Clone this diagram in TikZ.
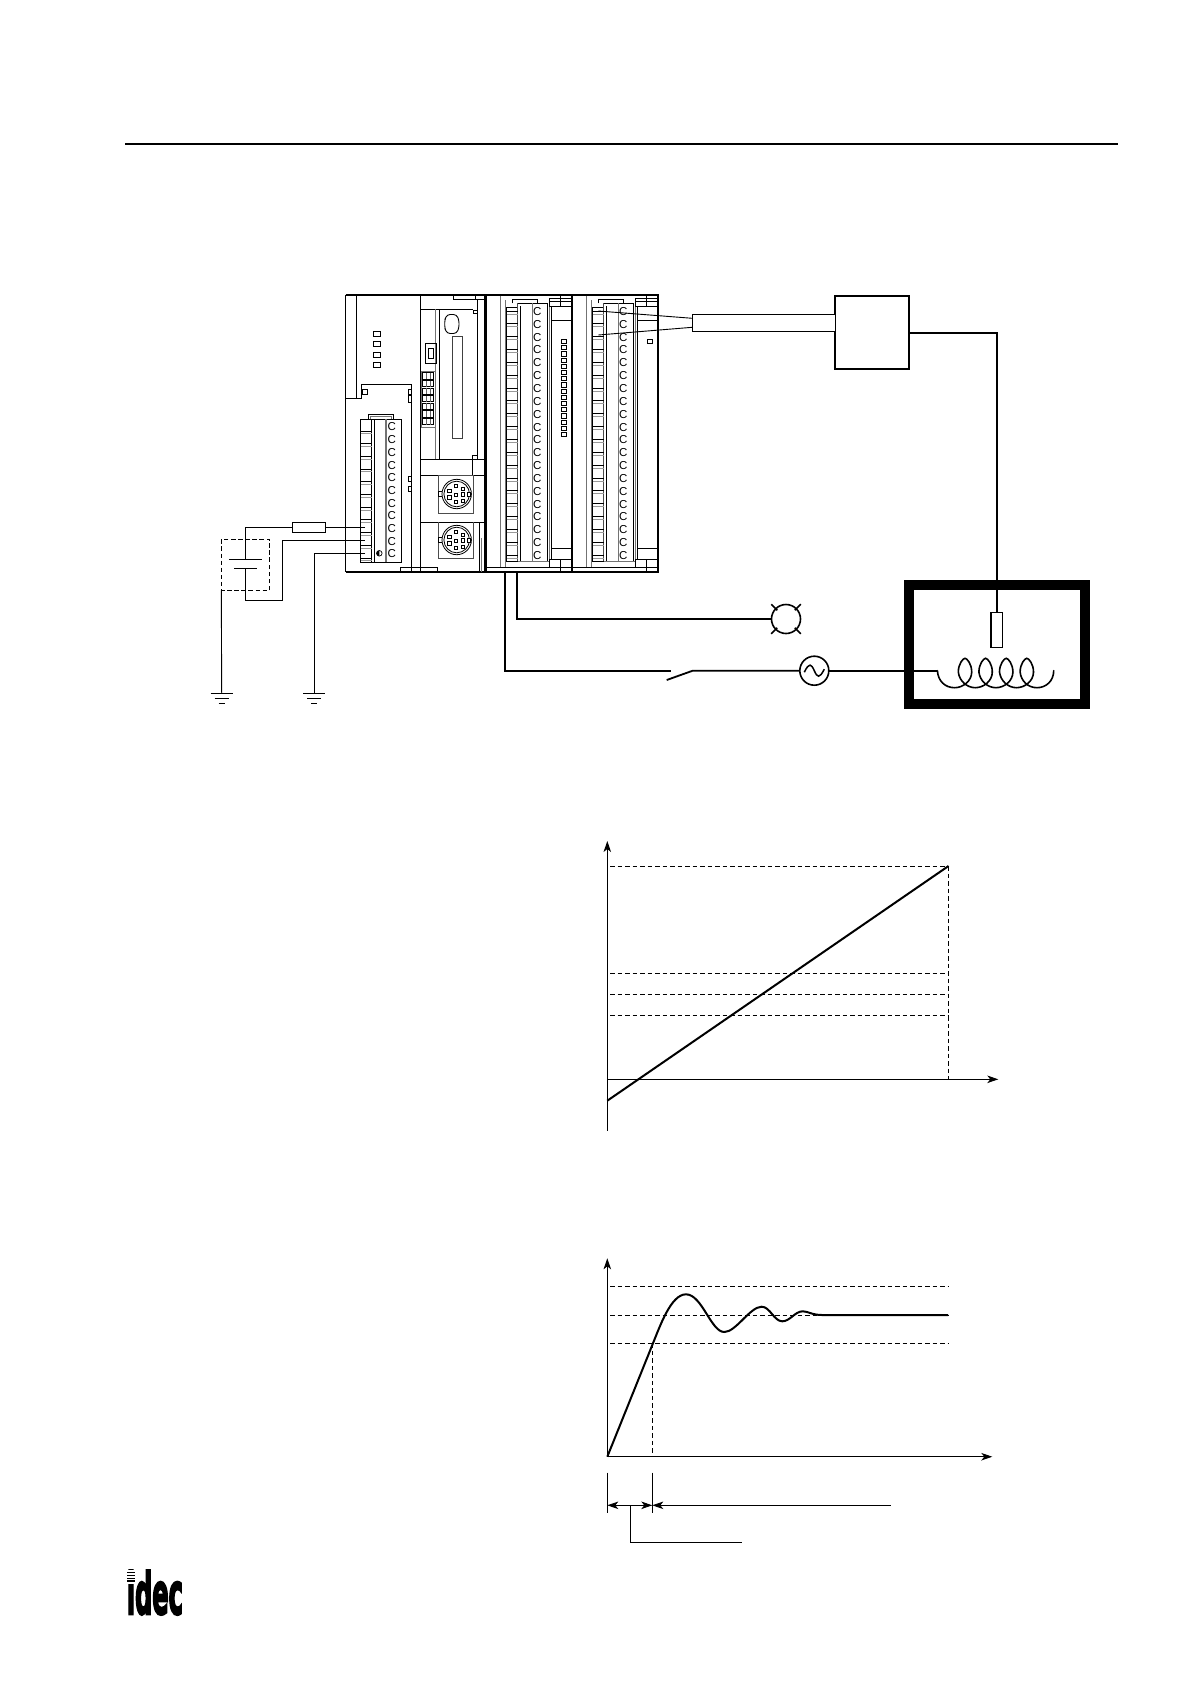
\documentclass[tikz,border=0pt]{standalone}
\usepackage{fontspec}
\usepackage{graphicx}
\usetikzlibrary{arrows.meta}
\newfontfamily\logofont[FakeBold=4.5]{DejaVu Sans Bold}
\newfontfamily\termfont{Liberation Sans}
\tikzset{
  thin1/.style={line width=0.9pt,black},
  wire/.style={line width=1.8pt,black},
  greyline/.style={line width=1.4pt,black!55},
  frameline/.style={line width=2pt,black},
  dashline/.style={line width=1pt,black,dash pattern=on 4.5pt off 3pt},
  axis/.style={line width=1pt,black,-{Stealth[length=11pt,width=7.5pt,inset=3pt]}},
  curve/.style={line width=2pt,black,line join=round},
  termC/.style={font=\termfont\fontsize{11.5}{11.5}\selectfont,inner sep=0pt},
  symb/.style={draw,line width=1.6pt,circle,minimum size=29pt,inner sep=0pt,outer sep=0pt},
  boxn/.style={draw,inner sep=0pt,outer sep=0pt,anchor=north west},
  pt/.style={draw,line width=0.8pt,fill=white},
  dimarrow/.style={line width=0.9pt,black,{Stealth[length=11pt,width=7.5pt,inset=3pt]}-{Stealth[length=11pt,width=7.5pt,inset=3pt]}},
  dimarrowl/.style={line width=0.9pt,black,{Stealth[length=11pt,width=7.5pt,inset=3pt]}-}
}
% mini DIN connector
\newcommand{\minidin}[3]{%
  \draw[thin1] (#1-18,#2-2.5) rectangle (#1-14,#2+2.5);
  \draw[line width=0.8pt,fill=white] (#1,#2) circle (14.7);
  \draw[line width=0.8pt] (#1,#2) circle (12.8);
  \draw[pt] (#1+10.5,#2-2) rectangle (#1+13.5,#2+2);
  \foreach \px/\py in {-7.3/-3.3,-0.7/-8,6/-5.3,-7.3/3.3,-0.7/1,6/0.3,-0.7/7.7,6/6.7}
    \draw[pt] (#1+\px-1.8,#2+\py-1.8) rectangle (#1+\px+1.8,#2+\py+1.8);
}
\begin{document}
\begin{tikzpicture}[x=1pt,y=-1pt]
\useasboundingbox (0,0) rectangle (1192,1684);
% page rule
\coordinate (ruleA) at (125,144); \coordinate (ruleB) at (1118,144);
\draw[frameline] (ruleA) -- (ruleB);

% ---------- PLC: base unit ----------
\draw[frameline] (345.7,295) -- (658.3,295);
\draw[frameline] (345.7,571.7) -- (658.3,571.7);
\draw[line width=1.2pt] (345.7,295) -- (345.7,571.7);
\draw[line width=3pt] (485.3,294) -- (485.3,572.5);
\draw[line width=2.2pt] (572.3,294) -- (572.3,572.5);
\draw[frameline] (658.3,294) -- (658.3,572.7);
% cover outline
\draw[thin1] (356.7,295) -- (356.7,398) (345.7,398) -- (361.7,398) -- (361.7,384) -- (411.5,384) -- (411.5,571.7);
\draw[thin1] (420.7,295) -- (420.7,571.7);
\draw[thin1] (453.3,295) -- (453.3,299.3) -- (475,299.3) -- (475,295) (475,299.3) -- (484,299.3);
\draw[thin1] (420.7,309.3) -- (473.3,309.3);
\draw[thin1] (477.3,300) -- (477.3,459.3);
\draw[thin1] (473.3,310) rectangle (477.3,313.5);
\draw[thin1] (472.3,455.7) rectangle (477.3,459.3);
\draw[greyline] (435.5,309.3) -- (435.5,459.3);
\draw[thin1] (439.3,309.3) -- (439.3,459.3);
\draw[thin1] (420.7,459.3) -- (484,459.3) (420.7,475) -- (484,475);
\draw[thin1] (472.3,459.3) -- (472.3,475);
\draw[thin1] (420.7,522.3) -- (484,522.3);
\draw[thin1] (479.3,522.3) -- (479.3,571.7);
\draw[greyline] (481.5,538) -- (481.5,571.7);
\draw[thin1] (400.7,571.7) -- (400.7,567.7) -- (437.3,567.7) -- (437.3,571.7);
\foreach \yy in {331.5,341.7,352,362.2}
  \draw[thin1] (373.3,\yy) rectangle (380,\yy+5.2);
\draw[thin1] (362,389.5) rectangle (367,394);
\draw[thin1] (408,389.5) rectangle (411.5,394);
\draw[thin1] (408,476) rectangle (411.5,481.3);
\draw[thin1] (408,486) rectangle (411.5,491.3);
\draw[thin1] (408,395.5) rectangle (411.5,402.5);
% memory slot
\draw[line width=0.9pt,rounded corners=3pt] (447,314.5) -- (456.5,314.5) -- (459,320) -- (459,328) -- (456.5,333.5) -- (447,333.5) -- (444.7,328) -- (444.7,320) -- cycle;
\draw[line width=1pt,black!75] (452.5,336) rectangle (462.3,438.3);
\draw[thin1] (425.7,343.3) rectangle (436,363.3);
\draw[thin1] (428.7,348.3) rectangle (433.7,358.3);
% DIP switch
\draw[greyline,line width=0.9pt] (421.3,371) rectangle (435,427.3);
\foreach \k in {0,...,6}{
  \draw[line width=0.7pt] (422.7,372.7+7.6*\k) rectangle (433.3,379+7.6*\k);
  \draw[line width=0.5pt,black!60] (426.2,373+7.6*\k) -- (426.2,379+7.6*\k) (429.8,373+7.6*\k) -- (429.8,379+7.6*\k);
}
% connectors
\draw[line width=0.9pt,black!70] (438.7,475) rectangle (473.7,513.3);
\draw[line width=0.9pt,black!70] (438.7,522.3) -- (438.7,558.3) -- (473.7,558.3) -- (473.7,522.3);
\minidin{456.7}{494}{a}
\minidin{456.7}{540}{b}
% base terminal block
\draw[thin1] (368.3,419.3) -- (368.3,414.3) -- (393.3,414.3) -- (393.3,419.3);
\draw[greyline,line width=1pt] (370.5,419) -- (370.5,416.5) -- (391,416.5) -- (391,419);
\draw[thin1] (360.7,419.3) rectangle (401.7,562.3);
\draw[thin1] (371.7,419.3) -- (371.7,562.3);
\draw[line width=1.3pt] (374.3,419.3) -- (374.3,562.3);
\draw[greyline] (386,419.3) -- (386,562.3);
\foreach \k in {1,...,11}{
  \draw[line width=0.8pt] (360.7,418.2+12.7*\k) -- (371.7,418.2+12.7*\k);
  \draw[line width=0.8pt,black!40] (360.7,421+12.7*\k) -- (371.7,421+12.7*\k);
}
\foreach \k in {0,...,10}
  \node[termC] (ca\k) at (391.7,427+12.7*\k) {C};
\draw[line width=0.7pt,fill=white] (379.3,553.3) circle (2.8);
\fill (379.3,550.5) arc (-90:-270:2.8) -- cycle;

% ---------- expansion modules ----------
\foreach \dx/\nm in {0/m,86/n}{
\begin{scope}[xshift=\dx pt]
  \draw[greyline] (500.5,295.5) -- (500.5,567.7);
  \draw[greyline] (505.7,300) -- (505.7,567.7);
  \draw[thin1] (487,567.7) -- (571,567.7);
  \draw[greyline] (506,561.5) -- (549,561.5);
  \draw[thin1] (512.3,303.3) -- (512.3,299.3) -- (537.3,299.3) -- (537.3,303.3);
  \draw[thin1] (506.7,307) rectangle (517.5,561);
  \draw[thin1] (517.5,303.3) -- (547.5,303.3) -- (547.5,561);
  \draw[line width=0.9pt,black!70] (517.5,303.3) -- (517.5,561);
  \draw[line width=0.8pt] (520.7,306) -- (520.7,561);
  \draw[greyline] (532.3,303.3) -- (532.3,561);
  \draw[thin1] (551.7,306.7) -- (551.7,559.3);
  \draw[greyline,line width=1pt] (549.3,303) -- (549.3,559.3);
  \draw[thin1] (549.3,298.3) rectangle (571,306.7) (560.7,295) -- (560.7,306.7) (549.3,301) -- (571,301);
  \draw[thin1] (551.7,320) -- (571,320);
  \draw[thin1] (551.7,548) -- (571,548);
  \draw[thin1] (549.3,559.3) rectangle (571,567.7) (560.7,559.3) -- (560.7,571);
  \foreach \k in {0,...,19}{
    \draw[line width=0.8pt] (506.7,311+12.84*\k) -- (517.5,311+12.84*\k);
    \draw[line width=0.8pt,black!40] (506.7,314+12.84*\k) -- (517.5,314+12.84*\k);
    \node[termC] (c\nm\k) at (537.3,311.5+12.84*\k) {C};
  }
\end{scope}
}
\foreach \k in {0,...,15}
  \draw[line width=0.8pt] (561.7,339.3+6.2*\k) rectangle (566.7,343.6+6.2*\k);
\draw[line width=0.8pt] (647.7,339.3) rectangle (652.7,343.8);

% ---------- temperature controller side ----------
\node[boxn,line width=2pt,minimum width=74.3pt,minimum height=73.6pt] (conv) at (835,295.7) {};
\node[boxn,line width=1pt,minimum width=142.7pt,minimum height=17.3pt,fill=white] (cable) at (692.3,314) {};
\coordinate (tc1) at (598.3,311); \coordinate (tc2) at (598.3,335);
\coordinate (cb1) at (692.3,318.3); \coordinate (cb2) at (692.3,327.3);
\draw[line width=0.9pt] (tc1) -- (cb1) (tc2) -- (cb2);

% furnace
\node[boxn,line width=10pt,minimum width=175.7pt,minimum height=118.7pt] (oven) at (909.2,585) {};
\node[boxn,line width=1.5pt,minimum width=11.6pt,minimum height=34.6pt] (sensor) at (990.9,612.7) {};
\coordinate (convOut) at (909.3,332.7);
\draw[wire,line width=2pt] (convOut) -| (sensor.north);
% heater coil
\coordinate (coilA) at (937.4,670.7);
\draw[wire,line width=1.6pt,line cap=round] (coilA) .. controls (938,681) and (945,687.7) .. (954.7,687.7)
   .. controls (963,687.7) and (971.7,681) .. (971.7,672);
\foreach \X in {965,985.6,1006.2}
  \draw[wire,line width=1.6pt,line cap=round] (\X+6.7,672) .. controls (\X+6.7,664) and (\X+2,658.3) .. (\X,658.3)
   .. controls (\X-2,658.3) and (\X-6.7,664) .. (\X-6.7,672)
   .. controls (\X-5.7,681) and (\X+2,687.7) .. (\X+10.3,687.7)
   .. controls (\X+18.6,687.7) and (\X+27.3,681) .. (\X+27.3,672);
\draw[wire,line width=1.6pt,line cap=round] (1033.5,672) .. controls (1033.5,664) and (1028.8,658.3) .. (1026.8,658.3)
   .. controls (1024.8,658.3) and (1020.1,664) .. (1020.1,672)
   .. controls (1021,681) and (1028,687.7) .. (1037,687.7)
   .. controls (1046,687.7) and (1053.7,681) .. (1053.7,670.7);

% lamp
\node[symb] (lamp) at (786,619) {};
\draw[wire,line width=1.5pt] (lamp.45) ++(-1.5,1.5) -- ++(6,-6) (lamp.135) ++(1.5,1.5) -- ++(-6,-6) (lamp.-45) ++(-1.5,-1.5) -- ++(6,6) (lamp.-135) ++(1.5,-1.5) -- ++(-6,6);
\coordinate (outA) at (516.7,571.7);
\draw[wire] (outA) |- (lamp.west);

% AC source and switch
\node[symb] (ac) at (814.3,670.7) {};
\draw[wire,line width=1.5pt] (804.3,672.2) .. controls (809.3,662) and (811.3,664) .. (814.3,670.7) .. controls (817.3,677.5) and (819.3,679) .. (824.3,669.2);
\coordinate (outB) at (504.7,571.7);
\coordinate (swA) at (670.7,670.7);
\coordinate (swB) at (692.7,670.7);
\coordinate (swC) at (666.7,680);
\draw[wire] (outB) |- (swA);
\draw[wire] (swC) -- (swB) -- (ac.west);
\draw[wire] (ac.east) -- (coilA);

% ---------- power wiring ----------
\node[draw,line width=0.9pt,minimum width=33.4pt,minimum height=10pt,inner sep=0pt,outer sep=0pt,fill=white] (fuse) at (309,527.3) {};
\coordinate (t1) at (365,527.3); \coordinate (t2) at (365,540.3); \coordinate (t3) at (365,553.3);
\coordinate (capA) at (245.7,559.3); \coordinate (capB) at (245.7,568.3);
\coordinate (g1) at (221.7,693); \coordinate (g2) at (314.3,693);
\draw[thin1] (t1) -- (fuse.east) (fuse.west) -| (capA);
\draw[thin1] (229,559.3) -- (261.7,559.3) (234,568.3) -- (256.7,568.3);
\draw[thin1] (capB) -- (245.7,600.3) -- (282.3,600.3) |- (t2);
\draw[thin1] (t3) -| (g2);
\draw[thin1,dash pattern=on 4.5pt off 2.6pt] (221.3,539.3) rectangle (269.7,590.3);
\draw[thin1] (221.3,590.3) -- (g1);
\foreach \g in {g1,g2}{
  \draw[thin1] (\g) ++(-11,0) -- ++(22,0);
  \draw[thin1] (\g) ++(-7,5.3) -- ++(14,0);
  \draw[thin1] (\g) ++(-3,10.3) -- ++(6,0);
}

% ---------- graph 1 ----------
\coordinate (aO) at (607.3,1079.3);
\coordinate (aT) at (607.3,841);
\coordinate (aB) at (607.3,1130.7);
\coordinate (aR) at (998.3,1079.3);
\coordinate (aP) at (948.5,866);
\coordinate (aS) at (607.3,1100.7);
\draw[axis] (aB) -- (aT);
\draw[axis] (aO) -- (aR);
\foreach \yy in {866,973.3,994.3,1015.3}
  \draw[dashline] (610,\yy) -- (948.5,\yy);
\draw[dashline] (aP) -- (948.5,1079.3);
\draw[curve] (aS) -- (aP);

% ---------- graph 2 ----------
\coordinate (bO) at (607.3,1456.7);
\coordinate (bT) at (607.3,1258.3);
\coordinate (bR) at (992.3,1456.7);
\draw[axis] (bO) -- (bT);
\draw[axis] (bO) -- (bR);
\foreach \yy in {1286,1315.3,1343.3}
  \draw[dashline] (610,\yy) -- (948,\yy);
\draw[dashline] (652.3,1343.3) -- (652.3,1456.7);
\draw[curve] (bO) -- (652.3,1345) .. controls (660,1326) and (671,1294.3) .. (686,1294.3)
  .. controls (702,1294.3) and (711,1332) .. (724.3,1332)
  .. controls (736,1332) and (750,1306.7) .. (761.7,1306.7)
  .. controls (770,1306.7) and (774,1321.3) .. (782.3,1321.3)
  .. controls (790,1321.3) and (795,1311.3) .. (802.7,1311.3)
  .. controls (808,1311.3) and (812,1315) .. (822,1315) -- (948,1315);
\coordinate (d1) at (607.3,1505.3);
\coordinate (d2) at (652.3,1505.3);
\coordinate (d3) at (891,1505.3);
\coordinate (d4) at (630.3,1505.3);
\coordinate (d5) at (742,1542.3);
\draw[thin1] (607.3,1472.7) -- (607.3,1513.3) (652.3,1472.7) -- (652.3,1513.3);
\draw[dimarrow] (d1) -- (d2);
\draw[dimarrowl] (d2) -- (d3);
\draw[thin1] (d4) |- (d5);

% ---------- logo ----------
\node[inner sep=0pt,anchor=south west] (logo) at (126.7,1615) {\resizebox{56pt}{43.5pt}{\logofont idec}};
\fill[white] (124,1570) rectangle (138,1583.5);
\foreach \yy in {1572.5,1575.5,1578.5,1581}
  \draw[line width=1.2pt] (127,\yy) -- (135,\yy);
\end{tikzpicture}
\end{document}
